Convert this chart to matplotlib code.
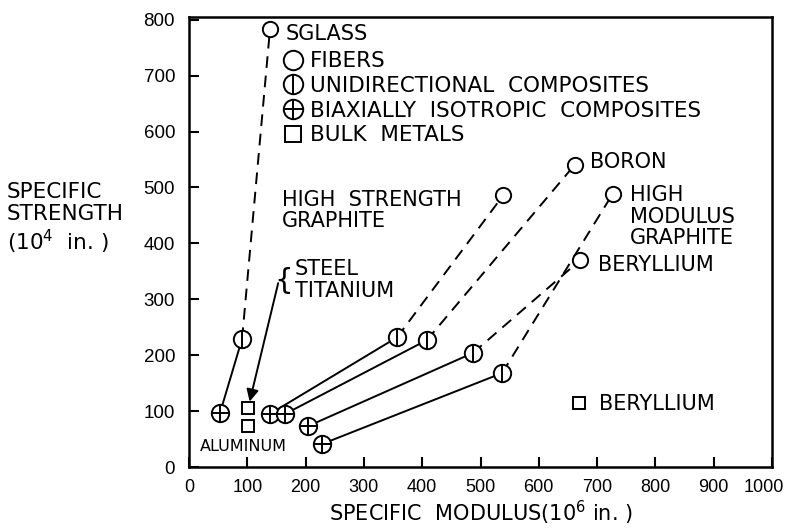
import matplotlib
matplotlib.use('Agg')
import matplotlib.pyplot as plt
import matplotlib.transforms as mtransforms
from matplotlib.lines import Line2D

# materials, same order in every array
materials = ['S-glass', 'HS graphite', 'Boron', 'Beryllium', 'HM graphite']
# fibers (open circle)
fiber_mod = [139, 539, 662, 671, 727]
fiber_str = [784, 486, 541, 370, 489]
# unidirectional composites
uni_mod = [91, 357, 408, 487, 537]
uni_str = [229, 232, 227, 204, 168]
# biaxially isotropic composites
biax_mod = [53, 139, 165, 204, 228]
biax_str = [96, 95, 95, 73, 41]

# bulk metals
metal_names = ['Steel/Titanium', 'Aluminum', 'Beryllium']
metal_mod = [101, 101, 669]
metal_str = [105, 73, 114]

x_ticks = [0, 100, 200, 300, 400, 500, 600, 700, 800, 900, 1000]
y_ticks = [0, 100, 200, 300, 400, 500, 600, 700, 800]

plt.rcParams['font.family'] = ['DejaVu Sans']
plt.rcParams['mathtext.fontset'] = 'dejavusans'

fig = plt.figure(figsize=(7.9, 5.3), dpi=100)
ax = fig.add_axes([189 / 790, 63 / 530, 583 / 790, 450 / 530])

lw = 1.4
ms_fib = 11
ms_comp = 12.5

# lines: biaxial -> unidirectional (solid), unidirectional -> fiber (dashed)
for i in range(len(materials)):
    ax.plot([biax_mod[i], uni_mod[i]], [biax_str[i], uni_str[i]],
            color='black', lw=lw, zorder=1)
    ax.plot([uni_mod[i], fiber_mod[i]], [uni_str[i], fiber_str[i]],
            color='black', lw=lw, dashes=(6, 4), zorder=1)

# markers
ax.plot(fiber_mod, fiber_str, 'o', ms=ms_fib, mfc='white', mec='black', mew=lw, zorder=3)
ax.plot(uni_mod, uni_str, 'o', ms=ms_comp, mfc='white', mec='black', mew=lw, zorder=3)
ax.plot(uni_mod, uni_str, '|', ms=ms_comp, mec='black', mew=lw, zorder=4)
ax.plot(biax_mod, biax_str, 'o', ms=ms_comp, mfc='white', mec='black', mew=lw, zorder=3)
ax.plot(biax_mod, biax_str, '+', ms=ms_comp, mec='black', mew=lw, zorder=4)
ax.plot(metal_mod, metal_str, 's', ms=8, mfc='white', mec='black', mew=lw, zorder=3)

# legend
h_fib = Line2D([], [], ls='none', marker='o', ms=14, mfc='white', mec='black', mew=lw)
h_uni = (Line2D([], [], ls='none', marker='o', ms=14, mfc='white', mec='black', mew=lw),
         Line2D([], [], ls='none', marker='|', ms=14, mec='black', mew=lw))
h_biax = (Line2D([], [], ls='none', marker='o', ms=14, mfc='white', mec='black', mew=lw),
          Line2D([], [], ls='none', marker='+', ms=14, mec='black', mew=lw))
h_metal = Line2D([], [], ls='none', marker='s', ms=11, mfc='white', mec='black', mew=lw)
ax.legend([h_fib, h_uni, h_biax, h_metal],
          ['FIBERS', 'UNIDIRECTIONAL  COMPOSITES', 'BIAXIALLY  ISOTROPIC  COMPOSITES', 'BULK  METALS'],
          loc='upper left', bbox_to_anchor=(0.160, 0.924), frameon=False,
          handlelength=1.0, handletextpad=0.3, labelspacing=0.22,
          borderpad=0, borderaxespad=0, fontsize=15.5)

# labels on the chart
fs = 15
ax.text(165, 775, 'SGLASS', fontsize=fs, va='center', ha='left')
ax.text(160, 459, 'HIGH  STRENGTH\nGRAPHITE', fontsize=fs, va='center', ha='left', linespacing=1.1)
ax.text(688, 545, 'BORON', fontsize=fs, va='center', ha='left')
ax.text(756, 448, 'HIGH\nMODULUS\nGRAPHITE', fontsize=fs, va='center', ha='left', linespacing=1.1)
ax.text(702, 361, 'BERYLLIUM', fontsize=fs, va='center', ha='left')
ax.text(703, 112, 'BERYLLIUM', fontsize=fs, va='center', ha='left')
ax.text(182, 334, 'STEEL\nTITANIUM', fontsize=fs, va='center', ha='left', linespacing=1.15)
ax.text(162, 332, '{', fontsize=21, va='center', ha='center')
ax.text(19, 36, 'ALUMINUM', fontsize=11.5, va='center', ha='left')

ax.annotate('', xy=(metal_mod[0] + 3, metal_str[0] + 12), xytext=(153, 329),
            arrowprops=dict(arrowstyle='-|>', color='black', lw=lw,
                            mutation_scale=18, shrinkA=0, shrinkB=0))

ax.set_xlim(0, 1000)
ax.set_ylim(0, 805)
ax.set_xticks(x_ticks)
ax.set_yticks(y_ticks)
ax.set_xticklabels([str(t) for t in x_ticks], fontsize=13, family='Liberation Sans')
ax.set_yticklabels([str(t) for t in y_ticks], fontsize=13.5, family='Liberation Sans')
ax.tick_params(direction='in', length=7, width=1.5)
ax.tick_params(axis='x', pad=9)
ax.tick_params(axis='y', pad=10)
# last x label sits a little left, as in the drawing
last = ax.get_xticklabels()[-1]
last.set_transform(last.get_transform() + mtransforms.ScaledTranslation(-8 / 100, 0, fig.dpi_scale_trans))
for s in ax.spines.values():
    s.set_linewidth(1.8)

ax.set_xlabel('SPECIFIC  MODULUS(10$^6$ in. )', fontsize=15, labelpad=2)
fig.text(7 / 790, 1 - 219 / 530, 'SPECIFIC\nSTRENGTH\n(10$^4$  in. )', fontsize=15.5,
         ha='left', va='center', linespacing=1.15)

fig.savefig('out.png', dpi=100)
